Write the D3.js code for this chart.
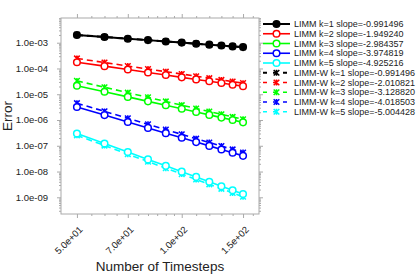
<!DOCTYPE html>
<html>
<head>
  <script src="https://cdn.jsdelivr.net/npm/d3@7"></script>
  <style>
    body { margin: 0; background: #fff; font-family: "Liberation Sans", Arial, sans-serif; }
  </style>
</head>
<body>
  <main id="container"></main>
  <script>
    // timesteps on the x axis
    const timesteps = [50, 60, 70, 80, 90, 100, 110, 120, 130, 140, 150]

    // LIMM errors (solid, circles)
    const limm1 = [2.0e-3, 1.67e-3, 1.43e-3, 1.26e-3, 1.12e-3, 1.01e-3, 9.15e-4, 8.4e-4, 7.75e-4, 7.2e-4, 6.75e-4]
    const limm2 = [1.75e-4, 1.23e-4, 9.1e-5, 7.0e-5, 5.57e-5, 4.53e-5, 3.76e-5, 3.18e-5, 2.72e-5, 2.35e-5, 2.06e-5]
    const limm3 = [2.15e-5, 1.25e-5, 7.9e-6, 5.3e-6, 3.72e-6, 2.72e-6, 2.04e-6, 1.58e-6, 1.24e-6, 1.0e-6, 8.1e-7]
    const limm4 = [3.2e-6, 1.55e-6, 8.4e-7, 4.94e-7, 3.09e-7, 2.04e-7, 1.39e-7, 9.9e-8, 7.2e-8, 5.35e-8, 4.06e-8]
    const limm5 = [3.0e-7, 1.22e-7, 5.7e-8, 2.96e-8, 1.66e-8, 9.9e-9, 6.2e-9, 4.0e-9, 2.7e-9, 1.88e-9, 1.34e-9]

    // LIMM-W errors (dashed, stars)
    const limmW1 = [2.0e-3, 1.67e-3, 1.43e-3, 1.26e-3, 1.12e-3, 1.01e-3, 9.15e-4, 8.4e-4, 7.75e-4, 7.2e-4, 6.75e-4]
    const limmW2 = [2.45e-4, 1.7e-4, 1.25e-4, 9.5e-5, 7.5e-5, 6.1e-5, 5.0e-5, 4.2e-5, 3.6e-5, 3.1e-5, 2.7e-5]
    const limmW3 = [3.3e-5, 1.87e-5, 1.15e-5, 7.6e-6, 5.25e-6, 3.77e-6, 2.8e-6, 2.13e-6, 1.66e-6, 1.32e-6, 1.06e-6]
    const limmW4 = [4.5e-6, 2.16e-6, 1.16e-6, 6.8e-7, 4.24e-7, 2.78e-7, 1.89e-7, 1.34e-7, 9.7e-8, 7.2e-8, 5.45e-8]
    const limmW5 = [2.55e-7, 1.02e-7, 4.73e-8, 2.43e-8, 1.35e-8, 7.95e-9, 4.93e-9, 3.19e-9, 2.14e-9, 1.48e-9, 1.05e-9]

    const legendLabels = [
      "LIMM k=1 slope=-0.991496", "LIMM k=2 slope=-1.949240", "LIMM k=3 slope=-2.984357",
      "LIMM k=4 slope=-3.974819", "LIMM k=5 slope=-4.925216",
      "LIMM-W k=1 slope=-0.991496", "LIMM-W k=2 slope=-2.010821", "LIMM-W k=3 slope=-3.128820",
      "LIMM-W k=4 slope=-4.018503", "LIMM-W k=5 slope=-5.004428"
    ]
    const colors = ["#000000", "#ff0000", "#00ff00", "#0000ff", "#00ffff"]

    const xTickValues = [50, 70, 100, 150]
    const xTickLabels = ["5.0e+01", "7.0e+01", "1.0e+02", "1.5e+02"]
    const yTickValues = [1e-3, 1e-4, 1e-5, 1e-6, 1e-7, 1e-8, 1e-9]
    const yTickLabels = ["1.0e-03", "1.0e-04", "1.0e-05", "1.0e-06", "1.0e-07", "1.0e-08", "1.0e-09"]

    const series = [limm1, limm2, limm3, limm4, limm5, limmW1, limmW2, limmW3, limmW4, limmW5]
      .map((vals, i) => ({
        label: legendLabels[i],
        color: colors[i % 5],
        dashed: i >= 5,
        values: vals.map((v, j) => ({ x: timesteps[j], y: v }))
      }))

    const width = 419, height = 274
    const plot = { left: 61, right: 259, top: 18, bottom: 214 }
    const axisColor = "#aaaaaa"

    const svg = d3.select("#container").append("svg")
      .attr("width", width).attr("height", height)

    const xScale = d3.scaleLog().domain([45, 166.7]).range([plot.left, plot.right])
    const yScale = d3.scaleLog().domain([2.25e-10, 9.1e-3]).range([plot.bottom, plot.top])

    // minor tick values
    const xMinor = [55, 60, 65, 75, 80, 85, 90, 95, 110, 120, 130, 140, 160]
    const yMinor = []
    for (let e = -10; e <= -3; e++) {
      for (let m = 2; m <= 9; m++) {
        const v = m * Math.pow(10, e)
        if (v > yScale.domain()[0] && v < yScale.domain()[1]) yMinor.push(v)
      }
    }

    const axisStyle = g => {
      g.select(".domain").remove()
      g.selectAll("line").attr("stroke", axisColor)
    }

    // box
    svg.append("rect")
      .attr("x", plot.left).attr("y", plot.top)
      .attr("width", plot.right - plot.left).attr("height", plot.bottom - plot.top)
      .attr("fill", "none").attr("stroke", axisColor).attr("stroke-width", 1)

    // ticks, outside the box on all sides
    const addTicks = (axisFn, scale, vals, size, transform) => {
      svg.append("g").attr("transform", transform)
        .call(axisFn(scale).tickValues(vals).tickSize(size).tickFormat(""))
        .call(axisStyle)
    }
    addTicks(d3.axisBottom, xScale, xTickValues, 4, `translate(0,${plot.bottom})`)
    addTicks(d3.axisBottom, xScale, xMinor, 2, `translate(0,${plot.bottom})`)
    addTicks(d3.axisTop, xScale, xTickValues, 4, `translate(0,${plot.top})`)
    addTicks(d3.axisTop, xScale, xMinor, 2, `translate(0,${plot.top})`)
    addTicks(d3.axisLeft, yScale, yTickValues, 4, `translate(${plot.left},0)`)
    addTicks(d3.axisLeft, yScale, yMinor, 2, `translate(${plot.left},0)`)
    addTicks(d3.axisRight, yScale, yTickValues, 4, `translate(${plot.right},0)`)
    addTicks(d3.axisRight, yScale, yMinor, 2, `translate(${plot.right},0)`)

    // tick labels
    svg.append("g").selectAll("text")
      .data(yTickValues)
      .join("text")
      .attr("x", plot.left - 13)
      .attr("y", d => yScale(d))
      .attr("dy", "0.35em")
      .attr("text-anchor", "end")
      .attr("font-size", 9.5)
      .attr("fill", "#222")
      .text((d, i) => yTickLabels[i])

    svg.append("g").selectAll("text")
      .data(xTickValues)
      .join("text")
      .attr("transform", d => `translate(${xScale(d) + 4},${plot.bottom + 14}) rotate(-45)`)
      .attr("text-anchor", "end")
      .attr("dy", "0.35em")
      .attr("font-size", 9.5)
      .attr("fill", "#222")
      .text((d, i) => xTickLabels[i])

    // axis titles
    svg.append("text")
      .attr("x", (plot.left + plot.right) / 2)
      .attr("y", 271)
      .attr("text-anchor", "middle")
      .attr("font-size", 13.5)
      .attr("fill", "#222")
      .text("Number of Timesteps")

    svg.append("text")
      .attr("transform", `translate(12,${(plot.top + plot.bottom) / 2}) rotate(-90)`)
      .attr("text-anchor", "middle")
      .attr("font-size", 13.5)
      .attr("fill", "#222")
      .text("Error")

    // markers
    const starPath = "M-2.8,-2.8L2.8,2.8M-2.8,2.8L2.8,-2.8M0,-3L0,3"
    const drawMarker = (g, s, x, y) => {
      if (s.dashed) {
        g.append("path").attr("d", starPath)
          .attr("transform", `translate(${x},${y})`)
          .attr("fill", "none").attr("stroke", s.color).attr("stroke-width", 1.5)
      } else {
        g.append("circle").attr("cx", x).attr("cy", y).attr("r", 3.3)
          .attr("fill", s.color === "#000000" ? "#000" : "#fff")
          .attr("stroke", s.color).attr("stroke-width", 1.5)
      }
    }

    const line = d3.line().x(d => xScale(d.x)).y(d => yScale(d.y))

    // draw LIMM-W first so the solid lines sit on top
    const drawOrder = [5, 6, 7, 8, 9, 0, 1, 2, 3, 4].map(i => series[i])
    const lines = svg.append("g")
    drawOrder.forEach(s => {
      const g = lines.append("g")
      g.append("path")
        .datum(s.values)
        .attr("fill", "none")
        .attr("stroke", s.color)
        .attr("stroke-width", s.color === "#000000" ? 2 : 1.6)
        .attr("stroke-dasharray", s.dashed ? "6,4" : null)
        .attr("d", line)
      s.values.forEach(d => drawMarker(g, s, xScale(d.x), yScale(d.y)))
    })

    // legend
    const legend = svg.append("g")
    const rowH = 9.75, legTop = 24
    series.forEach((s, i) => {
      const y = legTop + i * rowH
      const g = legend.append("g")
      g.append("line")
        .attr("x1", 263).attr("x2", 290).attr("y1", y).attr("y2", y)
        .attr("stroke", s.color).attr("stroke-width", s.color === "#000000" ? 2 : 1.6)
        .attr("stroke-dasharray", s.dashed ? "4,6" : null)
      drawMarker(g, s, 276.5, y)
      g.append("text")
        .attr("x", 294).attr("y", y).attr("dy", "0.35em")
        .attr("font-size", 9).attr("fill", "#222")
        .text(s.label)
    })
  </script>
</body>
</html>
